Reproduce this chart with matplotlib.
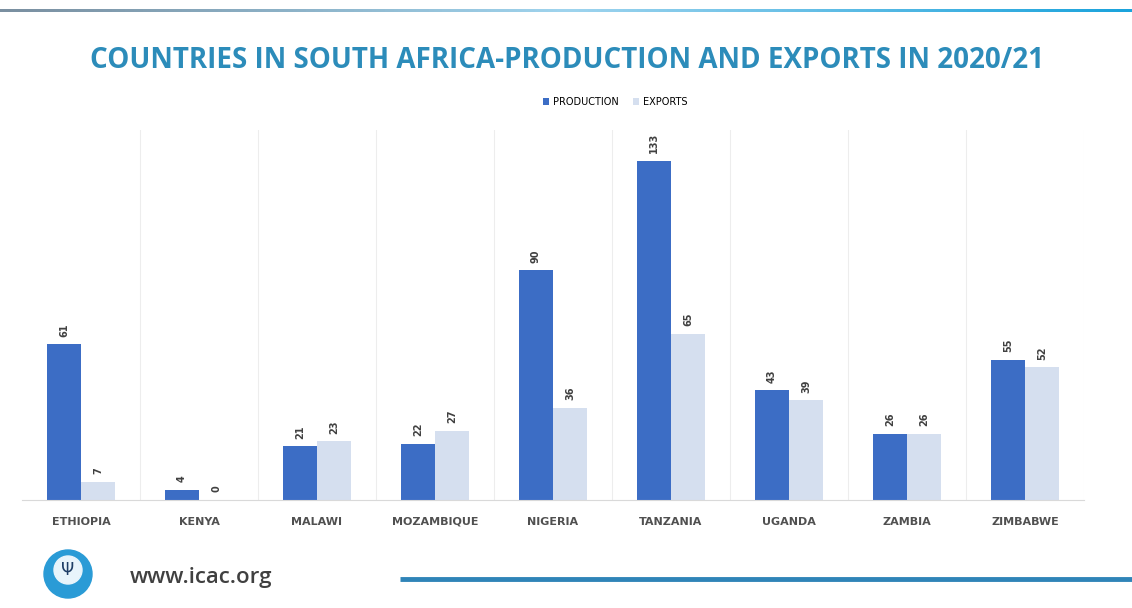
import numpy as np
import matplotlib.pyplot as plt
from matplotlib.patches import Circle
from matplotlib.colors import LinearSegmentedColormap

countries = ['ETHIOPIA', 'KENYA', 'MALAWI', 'MOZAMBIQUE', 'NIGERIA',
             'TANZANIA', 'UGANDA', 'ZAMBIA', 'ZIMBABWE']
production = [61, 4, 21, 22, 90, 133, 43, 26, 55]
exports = [7, 0, 23, 27, 36, 65, 39, 26, 52]

prod_color = '#3C6DC5'
exp_color = '#D5DFEF'

fig = plt.figure(figsize=(11.32, 6.08), dpi=100)
W, H = 1132, 608

# plot area in pixels: x 22..1084, y 130..500
ax = fig.add_axes([22 / W, (H - 500) / H, (1084 - 22) / W, (500 - 130) / H])
x = np.arange(len(countries))
bw = 0.29
b1 = ax.bar(x - bw / 2, production, bw, color=prod_color, label='PRODUCTION')
b2 = ax.bar(x + bw / 2, exports, bw, color=exp_color, label='EXPORTS')

for bars, vals in [(b1, production), (b2, exports)]:
    for rect, v in zip(bars, vals):
        ax.text(rect.get_x() + rect.get_width() / 2, v + 3, str(v),
                rotation=90, ha='center', va='bottom', fontsize=7,
                fontweight='bold', color='#404040')

ax.set_xlim(-0.5, len(countries) - 0.5)
ax.set_ylim(0, 145)
ax.set_yticks([])
ax.set_xticks(x)
ax.set_xticklabels(countries, fontsize=8, fontweight='bold', color='#505050')
ax.tick_params(axis='x', length=0, pad=12)
# separators between categories
for i in range(1, len(countries) + 1):
    ax.axvline(i - 0.5, color='#EDEDED', lw=0.8, zorder=0)
for s in ['top', 'left', 'right']:
    ax.spines[s].set_visible(False)
ax.spines['bottom'].set_color('#D9D9D9')

ax.legend(loc='center', bbox_to_anchor=(615 / W, 1 - 102 / H),
          bbox_transform=fig.transFigure, ncol=2, frameon=False,
          fontsize=7, handlelength=0.6, handleheight=0.6,
          columnspacing=1.5, handletextpad=0.4)

fig.text(567 / W, 1 - 60 / H,
         'COUNTRIES IN SOUTH AFRICA-PRODUCTION AND EXPORTS IN 2020/21',
         ha='center', va='center', fontsize=20, fontweight='bold',
         color='#2C8CBA', family='Open Sans')

# header gradient line
grad = np.linspace(0, 1, 256).reshape(1, -1)
hax = fig.add_axes([0, 1 - 12 / H, 1, 3 / H])
cmap = LinearSegmentedColormap.from_list('hdr', ['#7A8FA0', '#9FD4EE', '#1AA3DC'])
hax.imshow(grad, aspect='auto', cmap=cmap)
hax.axis('off')

# footer
fax = fig.add_axes([0, 0, 1, 1], zorder=-1)
fax.set_xlim(0, W)
fax.set_ylim(H, 0)
fax.axis('off')
fax.add_patch(Circle((68, 574), 24, color='#2A9BD6'))
fax.add_patch(Circle((68, 570), 14, color='#E8F4FB'))
fax.text(68, 570, 'Ψ', ha='center', va='center', fontsize=12, color='#1F3E66')
fax.text(130, 578, 'www.icac.org', ha='left', va='center', fontsize=16,
         color='#404040', fontweight='semibold', family='Open Sans')
fax.plot([400, 1132], [579, 579], color='#2F84B8', lw=3.5,
         solid_capstyle='butt')

fig.savefig('out.png', dpi=100, facecolor='white')
